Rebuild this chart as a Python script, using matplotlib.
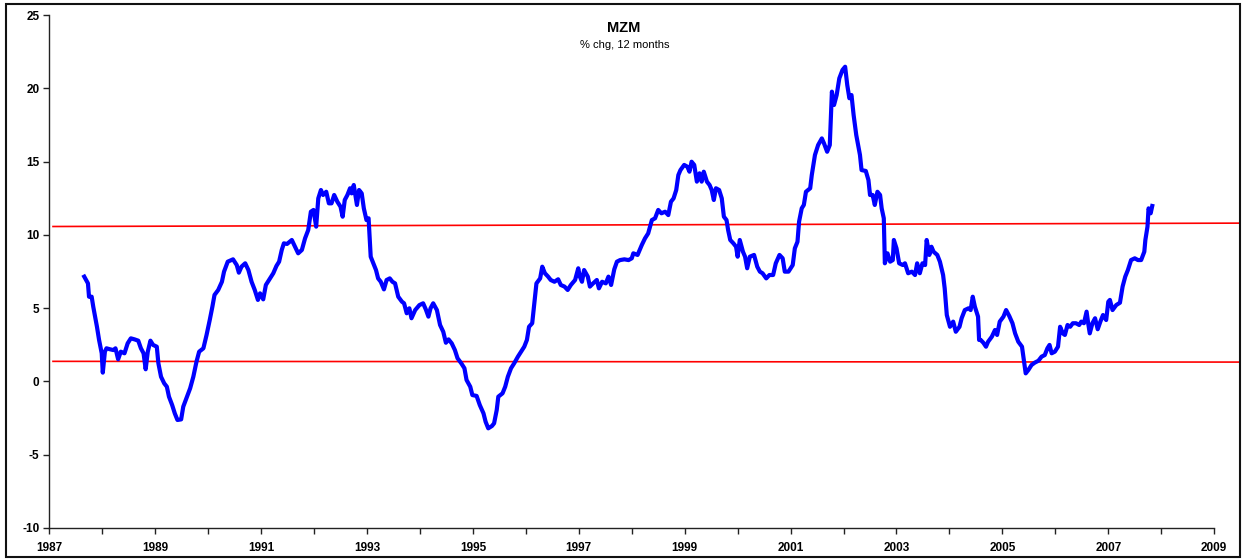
import matplotlib
matplotlib.use("Agg")
import matplotlib.pyplot as plt
from matplotlib.patches import Rectangle
from matplotlib.ticker import MultipleLocator, FixedFormatter, FixedLocator

plt.rcParams['font.family'] = ['Liberation Sans', 'DejaVu Sans']
plt.rcParams['axes.unicode_minus'] = False

# MZM, % chg 12 months (decimal years)
dates = [
    1987.66, 1987.73, 1987.75, 1987.80, 1987.83, 1987.90, 1987.94, 1987.99, 1988.01, 1988.05,
    1988.08, 1988.15, 1988.21, 1988.25, 1988.30, 1988.35, 1988.42, 1988.48, 1988.54, 1988.61,
    1988.68, 1988.73, 1988.78, 1988.82, 1988.86, 1988.91, 1988.96, 1989.03, 1989.06, 1989.11,
    1989.17, 1989.22, 1989.26, 1989.32, 1989.37, 1989.42, 1989.49, 1989.53, 1989.59, 1989.66,
    1989.72, 1989.78, 1989.83, 1989.91, 1989.97, 1990.03, 1990.08, 1990.12, 1990.19, 1990.26,
    1990.30, 1990.37, 1990.47, 1990.54, 1990.58, 1990.63, 1990.70, 1990.76, 1990.82, 1990.88,
    1990.94, 1990.98, 1991.04, 1991.09, 1991.15, 1991.23, 1991.29, 1991.34, 1991.39, 1991.43,
    1991.49, 1991.58, 1991.64, 1991.70, 1991.77, 1991.83, 1991.89, 1991.94, 1991.99, 1992.04,
    1992.08, 1992.13, 1992.17, 1992.23, 1992.28, 1992.33, 1992.38, 1992.44, 1992.50, 1992.54,
    1992.58, 1992.63, 1992.68, 1992.71, 1992.75, 1992.81, 1992.85, 1992.90, 1992.94, 1992.99,
    1993.03, 1993.07, 1993.12, 1993.17, 1993.21, 1993.26, 1993.32, 1993.37, 1993.43, 1993.48,
    1993.53, 1993.59, 1993.66, 1993.70, 1993.75, 1993.80, 1993.84, 1993.91, 1993.99, 1994.06,
    1994.11, 1994.16, 1994.20, 1994.25, 1994.32, 1994.38, 1994.44, 1994.49, 1994.54, 1994.60,
    1994.66, 1994.71, 1994.78, 1994.84, 1994.88, 1994.95, 1994.99, 1995.07, 1995.13, 1995.20,
    1995.24, 1995.29, 1995.36, 1995.40, 1995.45, 1995.48, 1995.56, 1995.61, 1995.66, 1995.72,
    1995.78, 1995.85, 1995.91, 1995.97, 1996.02, 1996.06, 1996.12, 1996.16, 1996.20, 1996.27,
    1996.31, 1996.36, 1996.42, 1996.47, 1996.54, 1996.61, 1996.66, 1996.73, 1996.79, 1996.85,
    1996.93, 1996.99, 1997.02, 1997.06, 1997.10, 1997.17, 1997.21, 1997.27, 1997.34, 1997.38,
    1997.44, 1997.51, 1997.56, 1997.61, 1997.67, 1997.72, 1997.78, 1997.86, 1997.94, 1998.00,
    1998.03, 1998.11, 1998.19, 1998.25, 1998.31, 1998.38, 1998.44, 1998.50, 1998.56, 1998.63,
    1998.69, 1998.74, 1998.79, 1998.84, 1998.88, 1998.92, 1998.99, 1999.05, 1999.09, 1999.13,
    1999.18, 1999.23, 1999.28, 1999.32, 1999.36, 1999.42, 1999.47, 1999.51, 1999.55, 1999.59,
    1999.65, 1999.70, 1999.74, 1999.79, 1999.82, 1999.86, 1999.92, 1999.97, 2000.00, 2000.04,
    2000.10, 2000.14, 2000.18, 2000.23, 2000.31, 2000.37, 2000.42, 2000.47, 2000.54, 2000.60,
    2000.67, 2000.72, 2000.79, 2000.85, 2000.89, 2000.96, 2001.04, 2001.08, 2001.13, 2001.16,
    2001.21, 2001.25, 2001.29, 2001.37, 2001.40, 2001.46, 2001.52, 2001.59, 2001.63, 2001.69,
    2001.74, 2001.78, 2001.82, 2001.87, 2001.92, 2001.98, 2002.03, 2002.07, 2002.11, 2002.15,
    2002.19, 2002.24, 2002.31, 2002.34, 2002.42, 2002.47, 2002.50, 2002.55, 2002.59, 2002.64,
    2002.69, 2002.72, 2002.76, 2002.78, 2002.83, 2002.88, 2002.93, 2002.95, 2003.00, 2003.05,
    2003.12, 2003.16, 2003.22, 2003.29, 2003.35, 2003.39, 2003.44, 2003.49, 2003.54, 2003.57,
    2003.62, 2003.66, 2003.70, 2003.77, 2003.82, 2003.88, 2003.91, 2003.95, 2004.01, 2004.07,
    2004.12, 2004.19, 2004.23, 2004.29, 2004.36, 2004.40, 2004.44, 2004.48, 2004.54, 2004.56,
    2004.59, 2004.64, 2004.69, 2004.73, 2004.80, 2004.86, 2004.90, 2004.95, 2005.02, 2005.07,
    2005.13, 2005.19, 2005.24, 2005.30, 2005.37, 2005.40, 2005.44, 2005.49, 2005.55, 2005.61,
    2005.68, 2005.74, 2005.80, 2005.85, 2005.89, 2005.93, 2005.99, 2006.05, 2006.09, 2006.14,
    2006.18, 2006.23, 2006.28, 2006.33, 2006.39, 2006.45, 2006.49, 2006.54, 2006.59, 2006.62,
    2006.65, 2006.70, 2006.75, 2006.80, 2006.85, 2006.90, 2006.96, 2007.00, 2007.03, 2007.08,
    2007.15, 2007.22, 2007.27, 2007.32, 2007.37, 2007.43, 2007.50, 2007.56, 2007.62, 2007.68,
    2007.70, 2007.74, 2007.76, 2007.80, 2007.83,
]
mzm = [
    7.15, 6.69, 5.78, 5.78, 5.10, 3.73, 2.83, 1.92, 0.60, 2.03,
    2.26, 2.19, 2.14, 2.26, 1.51, 2.03, 1.92, 2.60, 2.94, 2.87,
    2.78, 2.26, 1.92, 0.83, 2.03, 2.78, 2.49, 2.37, 1.24, 0.32,
    -0.13, -0.36, -1.04, -1.61, -2.18, -2.63, -2.59, -1.72, -1.15, -0.47,
    0.32, 1.35, 2.03, 2.26, 3.17, 4.19, 5.10, 5.90, 6.24, 6.80,
    7.49, 8.17, 8.33, 7.94, 7.42, 7.83, 8.06, 7.60, 6.80, 6.24,
    5.56, 6.01, 5.60, 6.58, 6.92, 7.38, 7.88, 8.17, 8.97, 9.42,
    9.38, 9.65, 9.19, 8.74, 8.97, 9.76, 10.33, 11.58, 11.70, 10.56,
    12.49, 13.06, 12.72, 12.94, 12.15, 12.15, 12.72, 12.26, 11.92, 11.24,
    12.38, 12.72, 13.18, 12.83, 13.40, 12.04, 13.06, 12.83, 11.81, 11.01,
    11.13, 8.51, 8.06, 7.60, 7.03, 6.80, 6.28, 6.92, 7.03, 6.80,
    6.69, 5.78, 5.44, 5.33, 4.65, 4.99, 4.31, 4.87, 5.21, 5.33,
    4.92, 4.42, 4.99, 5.33, 4.87, 3.85, 3.39, 2.64, 2.87, 2.60,
    2.14, 1.58, 1.24, 0.90, 0.10, -0.36, -0.93, -0.99, -1.61, -2.18,
    -2.75, -3.20, -3.04, -2.86, -1.95, -1.04, -0.81, -0.36, 0.32, 0.90,
    1.24, 1.69, 2.03, 2.37, 2.83, 3.73, 3.97, 5.33, 6.69, 7.03,
    7.83, 7.38, 7.15, 6.92, 6.80, 6.97, 6.58, 6.47, 6.24, 6.58,
    6.92, 7.72, 7.15, 6.80, 7.60, 7.15, 6.47, 6.69, 6.92, 6.35,
    6.80, 6.69, 7.15, 6.58, 7.65, 8.17, 8.28, 8.33, 8.28, 8.40,
    8.74, 8.63, 9.31, 9.76, 10.10, 11.01, 11.13, 11.70, 11.47, 11.58,
    11.35, 12.26, 12.49, 13.06, 14.08, 14.42, 14.77, 14.65, 14.31, 14.99,
    14.77, 13.63, 14.20, 13.63, 14.31, 13.63, 13.40, 13.06, 12.38, 13.18,
    13.06, 12.49, 11.24, 11.01, 10.33, 9.65, 9.42, 9.19, 8.51, 9.65,
    8.85, 8.51, 7.72, 8.51, 8.63, 7.83, 7.49, 7.38, 7.03, 7.26,
    7.26, 8.06, 8.63, 8.40, 7.49, 7.49, 7.94, 9.08, 9.53, 10.90,
    11.81, 12.04, 12.94, 13.18, 14.08, 15.45, 16.13, 16.58, 16.25, 15.67,
    16.13, 19.77, 18.86, 19.54, 20.68, 21.25, 21.47, 20.22, 19.32, 19.54,
    18.18, 16.81, 15.45, 14.42, 14.36, 13.74, 12.72, 12.72, 12.04, 12.94,
    12.72, 11.81, 11.13, 8.06, 8.74, 8.17, 8.28, 9.65, 9.08, 8.06,
    7.94, 8.06, 7.38, 7.49, 7.26, 8.06, 7.38, 8.06, 7.94, 9.65,
    8.63, 9.19, 8.85, 8.63, 8.17, 7.26, 6.35, 4.53, 3.73, 4.08,
    3.39, 3.73, 4.31, 4.87, 4.99, 4.87, 5.78, 5.10, 4.42, 2.83,
    2.83, 2.64, 2.37, 2.71, 3.05, 3.51, 3.17, 4.08, 4.42, 4.87,
    4.46, 3.97, 3.28, 2.71, 2.37, 1.58, 0.55, 0.78, 1.12, 1.28,
    1.41, 1.69, 1.80, 2.26, 2.49, 1.92, 2.03, 2.37, 3.73, 3.28,
    3.17, 3.85, 3.73, 3.97, 3.97, 3.85, 4.08, 3.97, 4.76, 3.97,
    3.28, 3.97, 4.31, 3.56, 4.08, 4.53, 4.19, 5.44, 5.56, 4.87,
    5.21, 5.37, 6.47, 7.15, 7.60, 8.28, 8.40, 8.28, 8.28, 8.85,
    9.65, 10.56, 11.81, 11.47, 11.97,
]

# red reference lines (start/end)
band_x = [1987.07, 2009.47]
upper_band = [10.57, 10.80]
lower_band = [1.37, 1.32]

year_ticks = list(range(1987, 2010, 2))
year_labels = [str(y) for y in year_ticks]

W, H = 1244, 559
fig = plt.figure(figsize=(W / 100, H / 100), dpi=100)
ax = fig.add_axes([49.3 / W, 31 / H, 1164.9 / W, 513 / H])

ax.plot(dates, mzm, color='#0000ff', lw=3.0, solid_joinstyle='round', zorder=3)
ax.plot(band_x, upper_band, color='#ff0000', lw=1.2, clip_on=False, zorder=2)
ax.plot(band_x, lower_band, color='#ff0000', lw=1.2, clip_on=False, zorder=2)

ax.set_xlim(1987, 2009)
ax.set_ylim(-10, 25)
ax.xaxis.set_major_locator(FixedLocator(year_ticks))
ax.xaxis.set_major_formatter(FixedFormatter(year_labels))
ax.xaxis.set_minor_locator(MultipleLocator(1))
ax.yaxis.set_major_locator(MultipleLocator(5))

for s in ['top', 'right']:
    ax.spines[s].set_visible(False)
for s in ['left', 'bottom']:
    ax.spines[s].set_linewidth(1.0)
    ax.spines[s].set_color('#222222')

ax.tick_params(axis='both', which='both', direction='out', length=4, width=1.0, color='#222222')
ax.tick_params(axis='x', which='major', pad=6, labelsize=8.5)
ax.tick_params(axis='y', which='major', pad=3, labelsize=8.5)
for lab in ax.get_xticklabels() + ax.get_yticklabels():
    lab.set_fontweight('bold')

fig.text(624 / W, 1 - 28 / H, 'MZM', ha='center', va='center', fontsize=10.5, fontweight='bold')
fig.text(625 / W, 1 - 44.5 / H, '% chg, 12 months', ha='center', va='center', fontsize=8)

# outer frame
fig.patches.append(Rectangle((6 / W, 2 / H), 1234 / W, 553 / H, transform=fig.transFigure,
                             fill=False, edgecolor='#111111', lw=1.5))

fig.savefig('out.png', dpi=100)
